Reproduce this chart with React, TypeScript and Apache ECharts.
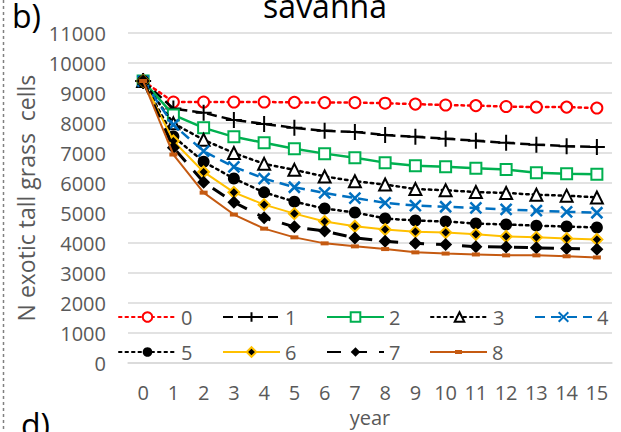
import React, { useEffect, useRef } from "react";
import * as echarts from "echarts";

const years = ["0", "1", "2", "3", "4", "5", "6", "7", "8", "9", "10", "11", "12", "13", "14", "15"];
const yTicks = [0, 11000, 1000]; // min, max, interval

const s0 = [9400, 8700, 8700, 8700, 8700, 8690, 8680, 8680, 8660, 8630, 8600, 8580, 8550, 8530, 8530, 8500];
const s1 = [9400, 8480, 8340, 8100, 7970, 7840, 7740, 7700, 7600, 7540, 7480, 7410, 7340, 7280, 7230, 7200];
const s2 = [9400, 8270, 7840, 7540, 7340, 7140, 6980, 6840, 6680, 6580, 6540, 6490, 6450, 6340, 6310, 6290];
const s3 = [9400, 7990, 7440, 7000, 6640, 6440, 6220, 6060, 5950, 5800, 5760, 5700, 5670, 5610, 5580, 5520];
const s4 = [9400, 7940, 7060, 6540, 6150, 5860, 5670, 5500, 5340, 5250, 5210, 5170, 5120, 5080, 5040, 5010];
const s5 = [9400, 7550, 6710, 6150, 5690, 5380, 5150, 5020, 4820, 4750, 4720, 4650, 4620, 4580, 4550, 4520];
const s6 = [9400, 7400, 6370, 5690, 5280, 4980, 4720, 4560, 4450, 4380, 4350, 4290, 4220, 4190, 4150, 4120];
const s7 = [9400, 7180, 6030, 5360, 4840, 4540, 4400, 4170, 4060, 3990, 3950, 3880, 3870, 3840, 3820, 3790];
const s8 = [9400, 6950, 5680, 4950, 4480, 4190, 3990, 3890, 3800, 3690, 3650, 3620, 3590, 3590, 3560, 3520];

const seriesNames = ["0", "1", "2", "3", "4", "5", "6", "7", "8"];
const titleText = "savanna";
const xName = "year";
const yName = "N exotic tall grass  cells";

const FONT = "'Open Sans', 'DejaVu Sans', sans-serif";
const GREY = "#595959";

export default function App() {
  const ref = useRef<HTMLDivElement>(null);
  useEffect(() => {
    if (!ref.current) return;
    const chart = echarts.init(ref.current, null, { renderer: "svg" });
    const PLUS = "path://M5,0L5,10M0,5L10,5";
    const CROSS = "path://M0,0L10,10M10,0L0,10";
    const DASH = "path://M0,0L10,0L10,5L0,5Z";
    const DASH_ICON = "path://M0,1.1L57,1.1L57,2.9L0,2.9Z M25,0L32,0L32,4L25,4Z";
    const defs: any[] = [
      { data: s0, color: "#FF0000", line: { type: [2.5, 4], width: 2.5, cap: "round" }, symbol: "emptyCircle", size: 11, item: { color: "#FF0000", borderWidth: 2 } },
      { data: s1, color: "#000000", line: { type: [10, 5], width: 2.5 }, symbol: PLUS, size: 16, item: { color: "#000", borderColor: "#000", borderWidth: 2 } },
      { data: s2, color: "#00B050", line: { type: "solid", width: 2.5 }, symbol: "emptyRect", size: 11, item: { color: "#00B050", borderWidth: 2 } },
      { data: s3, color: "#000000", line: { type: [2.5, 4], width: 2.5, cap: "round" }, symbol: "emptyTriangle", size: 12, item: { color: "#000", borderWidth: 2 } },
      { data: s4, color: "#0070C0", line: { type: [10, 6], width: 2.5 }, symbol: CROSS, size: 11, item: { color: "#0070C0", borderColor: "#0070C0", borderWidth: 2.5 } },
      { data: s5, color: "#000000", line: { type: [2.5, 4], width: 2.5, cap: "round" }, symbol: "circle", size: 12, item: { color: "#000" } },
      { data: s6, color: "#FFC000", line: { type: "solid", width: 2 }, symbol: "diamond", size: 11, item: { color: "#000", borderColor: "#FFC000", borderWidth: 2 } },
      { data: s7, color: "#000000", line: { type: [14, 12], width: 3 }, symbol: "diamond", size: 13, item: { color: "#000" } },
      { data: s8, color: "#C55A11", line: { type: "solid", width: 2 }, symbol: DASH, size: 8, item: { color: "#C55A11" } },
    ];
    const series = defs.map((d, i) => ({
      name: seriesNames[i],
      type: "line",
      data: d.data,
      symbol: d.symbol,
      symbolSize: d.size,
      symbolKeepAspect: true,
      showAllSymbol: true,
      color: d.color,
      lineStyle: { color: d.color, ...d.line },
      itemStyle: d.item,
      z: 2 + i,
    }));
    const legendBase = {
      left: 118,
      padding: 0,
      itemWidth: 57,
      itemHeight: 12,
      itemGap: 19,
      orient: "horizontal",
      symbolKeepAspect: true,
      textStyle: { fontFamily: FONT, fontSize: 20, color: GREY, width: 22, lineHeight: 22 },
      selectedMode: false,
    };
    chart.setOption({
      animation: false,
      backgroundColor: "#fff",
      grid: { left: 128, right: 9, top: 33, bottom: 68, containLabel: false },
      legend: [
        { ...legendBase, top: 306, width: 600, data: seriesNames.slice(0, 5) },
        {
          ...legendBase,
          top: 341,
          width: 600,
          data: [
            ...seriesNames.slice(5, 8),
            { name: seriesNames[8], icon: DASH_ICON, itemStyle: { color: "#C55A11", borderWidth: 0 } },
          ],
        },
      ],
      xAxis: {
        type: "category",
        data: years,
        boundaryGap: true,
        name: xName,
        nameLocation: "middle",
        nameGap: 37,
        nameTextStyle: { fontFamily: FONT, fontSize: 20, color: GREY },
        axisLine: { show: true, lineStyle: { color: "#D9D9D9", width: 1.5 } },
        axisTick: { show: false },
        axisLabel: { fontFamily: FONT, fontSize: 20, color: GREY, margin: 19, interval: 0 },
        splitLine: { show: false },
      },
      yAxis: {
        type: "value",
        min: yTicks[0],
        max: yTicks[1],
        interval: yTicks[2],
        name: yName,
        nameLocation: "middle",
        nameGap: 80,
        nameTextStyle: { fontFamily: FONT, fontSize: 23, color: GREY },
        axisLine: { show: false },
        axisTick: { show: false },
        axisLabel: { fontFamily: FONT, fontSize: 20, color: GREY, margin: 22, formatter: (v: number) => String(v) },
        splitLine: { show: true, lineStyle: { color: "#D9D9D9", width: 1.5 } },
      },
      graphic: [
        { type: "line", shape: { x1: 3.5, y1: 0, x2: 3.5, y2: 432 }, style: { stroke: "#808080", lineWidth: 1.5, lineDash: [3, 3] }, silent: true },
        { type: "text", x: 325, y: 21, style: { text: titleText, fontFamily: FONT, fontSize: 32, fill: "#000", align: "center", verticalAlign: "bottom" } },
        { type: "text", x: 12, y: 31, style: { text: "b)", fontFamily: FONT, fontSize: 32, fill: "#000", align: "left", verticalAlign: "bottom" } },
        { type: "text", x: 21, y: 440, style: { text: "d)", fontFamily: FONT, fontSize: 32, fill: "#000", align: "left", verticalAlign: "bottom" } },
      ],
      series,
    });
    return () => chart.dispose();
  }, []);
  return <div ref={ref} style={{ width: 621, height: 432, position: "absolute", left: 0, top: 0 }} />;
}
